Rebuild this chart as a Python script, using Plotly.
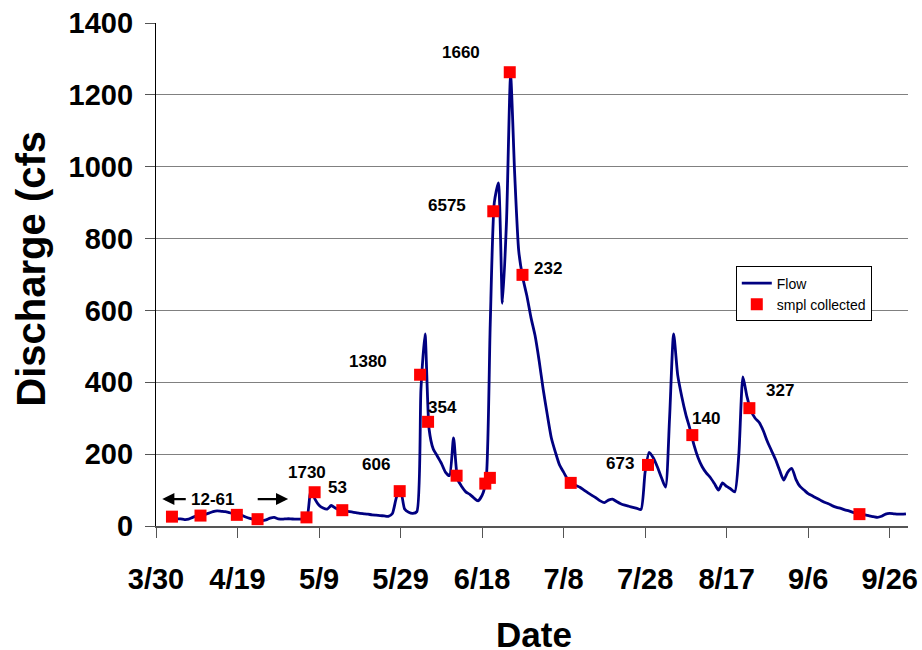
import pandas as pd
import plotly.graph_objects as go

# ---------------- data ----------------
flow_start = "2003-04-03"
flow_cfs = [
    21, 20, 20, 18, 19, 24, 28, 30, 32, 36, 40, 42, 41, 40, 37, 34, 33, 30, 25, 21,
    18, 16, 15, 17, 22, 24, 20, 19, 20, 20, 19, 19, 19, 22, 102, 75, 58, 50, 47, 57,
    50, 45, 43, 41, 39, 37, 35, 34, 33, 31, 30, 29, 28, 27, 35, 80, 100, 47, 38, 35,
    40, 380, 535, 270, 215, 195, 175, 150, 140, 245, 130, 110, 95, 88, 78, 70, 85, 130, 560, 900,
    955, 620, 850, 1255, 980, 765, 690, 640, 580, 530, 460, 380, 310, 245, 205, 170, 150, 130, 120, 113,
    108, 100, 92, 85, 78, 70, 65, 72, 75, 68, 62, 58, 55, 52, 49, 46, 150, 205, 190, 165,
    135, 108, 300, 535, 420, 360, 310, 270, 225, 190, 165, 148, 135, 118, 100, 120, 110, 103, 95, 200,
    415, 360, 320, 300, 288, 265, 235, 210, 185, 155, 128, 150, 160, 130, 110, 100, 90, 84, 78, 72,
    66, 62, 56, 52, 49, 45, 42, 38, 35, 33, 31, 28, 26, 24, 27, 33, 35, 34, 33, 33, 34,
]

sample_times = [
    "2003-04-02 22:00", "2003-04-09 22:00", "2003-04-18 20:00", "2003-04-23 22:00",
    "2003-05-05 22:00", "2003-05-07 22:00", "2003-05-14 17:00", "2003-05-28 19:00",
    "2003-06-02 19:00", "2003-06-04 18:00", "2003-06-11 18:00", "2003-06-18 19:00",
    "2003-06-19 22:00", "2003-06-20 18:00", "2003-06-24 19:00", "2003-06-27 22:00",
    "2003-07-09 18:00", "2003-07-28 17:00", "2003-08-08 14:00", "2003-08-22 14:00",
    "2003-09-18 14:00",
]
sample_cfs = [26, 29, 31, 19, 24, 94, 44, 97, 421, 290, 140, 118,
              134, 876, 1263, 699, 120, 170, 253, 328, 33]

label_texts = ["12-61", "1730", "53", "606", "1380", "354", "6575", "1660",
               "232", "673", "140", "327"]
label_times = ["2003-04-12 19:00", "2003-05-05 23:00", "2003-05-13 13:00",
               "2003-05-23 02:00", "2003-05-20 23:00", "2003-06-08 06:00",
               "2003-06-09 10:00", "2003-06-12 18:00", "2003-07-04 07:00",
               "2003-07-21 19:00", "2003-08-11 22:00", "2003-08-30 00:00"]
label_cfs = [75, 150, 108, 170, 459, 331, 891, 1319, 718, 173, 298, 378]

# range arrows around the "12-61" label (head, tail)
arrow_heads = ["2003-03-31 13:00", "2003-05-01 10:00"]
arrow_tails = ["2003-04-06 16:00", "2003-04-23 14:00"]
arrow_cfs = 75

x_range = ["2003-03-30", "2003-09-30 12:00"]
tick_start = "2003-03-30"
tick_step_days = 20
y_ticks = [0, 200, 400, 600, 800, 1000, 1200, 1400]

# ---------------- figure ----------------
flow_dates = pd.date_range(flow_start, periods=len(flow_cfs), freq="D")
FONT = "Liberation Sans, Arial, sans-serif"

fig = go.Figure()
fig.add_trace(go.Scatter(
    x=flow_dates, y=flow_cfs, mode="lines", name="Flow",
    line=dict(color="#000080", width=2.8, shape="spline", smoothing=0.6),
))
fig.add_trace(go.Scatter(
    x=pd.to_datetime(sample_times), y=sample_cfs, mode="markers",
    name="smpl collected",
    marker=dict(symbol="square", size=12, color="#FF0000"),
))

annotations = []
for t, x, y in zip(label_texts, label_times, label_cfs):
    annotations.append(dict(
        x=x, y=y, xref="x", yref="y", text="<b>%s</b>" % t, showarrow=False,
        font=dict(family=FONT, size=17, color="black"),
        xanchor="center", yanchor="middle",
    ))
for h, tl in zip(arrow_heads, arrow_tails):
    annotations.append(dict(
        x=h, y=arrow_cfs, ax=tl, ay=arrow_cfs, xref="x", yref="y",
        axref="x", ayref="y", text="", showarrow=True,
        arrowhead=2, arrowsize=1.1, arrowwidth=2.2, arrowcolor="black",
    ))
# axis titles
annotations.append(dict(
    x=-0.166, y=0.512, xref="paper", yref="paper", text="<b>Discharge (cfs</b>",
    textangle=-90, showarrow=False, xanchor="center", yanchor="middle",
    font=dict(family=FONT, size=40, color="black"),
))
annotations.append(dict(
    x=0.503, y=-0.216, xref="paper", yref="paper", text="<b>Date</b>",
    showarrow=False, xanchor="center", yanchor="middle",
    font=dict(family=FONT, size=35, color="black"),
))

fig.update_layout(
    width=922, height=650, autosize=False,
    margin=dict(l=156, r=14, t=23, b=124),
    paper_bgcolor="white", plot_bgcolor="white",
    font=dict(family=FONT, color="black"),
    showlegend=True,
    legend=dict(
        x=0.771, y=0.516, xanchor="left", yanchor="top",
        bordercolor="black", borderwidth=1, bgcolor="white",
        font=dict(family=FONT, size=14, color="black"),
        tracegroupgap=0, itemwidth=30,
    ),
    annotations=annotations,
)
fig.update_xaxes(
    type="date", range=x_range, tick0=tick_start, automargin=False,
    dtick=tick_step_days * 86400000, tickformat="%-m/%-d",
    ticks="outside", ticklen=10, tickwidth=1.3, tickcolor="#555555",
    showline=True, linecolor="#555555", linewidth=1.6,
    showgrid=False, zeroline=False,
    tickfont=dict(family=FONT, size=29, color="black", weight="bold"),
    ticklabelstandoff=16,
)
fig.update_yaxes(
    range=[0, 1400], tickvals=y_ticks, automargin=False,
    ticks="outside", ticklen=10, tickwidth=1.3, tickcolor="#555555",
    showline=True, linecolor="black", linewidth=1.2,
    showgrid=True, gridcolor="#808080", gridwidth=1.3, zeroline=False,
    tickfont=dict(family=FONT, size=29, color="black", weight="bold"),
    ticklabelstandoff=6,
)

fig.write_html("out.html", config={"displayModeBar": False},
               post_script="document.body.style.margin='0';")
